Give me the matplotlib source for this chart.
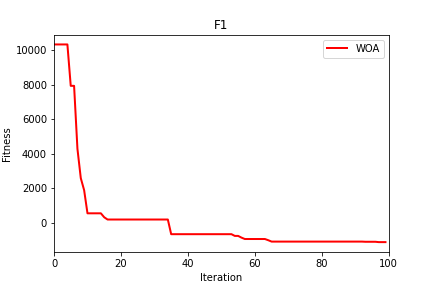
import numpy as np
import matplotlib
matplotlib.use('Agg')
import matplotlib.pyplot as plt

iterations = np.arange(100)
fitness = np.array(
    [10350] * 5
    + [7950] * 2
    + [4300, 2600, 1900]
    + [560] * 5
    + [330]
    + [200] * 19
    + [-650] * 19
    + [-750] * 2
    + [-850]
    + [-930] * 7
    + [-1000]
    + [-1080] * 28
    + [-1090] * 4
    + [-1110] * 3
)

fig, ax = plt.subplots(figsize=(6, 4), dpi=72)
fig.subplots_adjust(left=0.125, right=0.9, bottom=0.125, top=0.88)
ax.plot(iterations, fitness, color='red', linewidth=2, label='WOA')
ax.set_xlim(0, 100)
ax.set_title('F1')
ax.set_xlabel('Iteration')
ax.set_ylabel('Fitness')
ax.legend(loc='upper right')

plt.savefig('out.png', dpi=72)
plt.close()
